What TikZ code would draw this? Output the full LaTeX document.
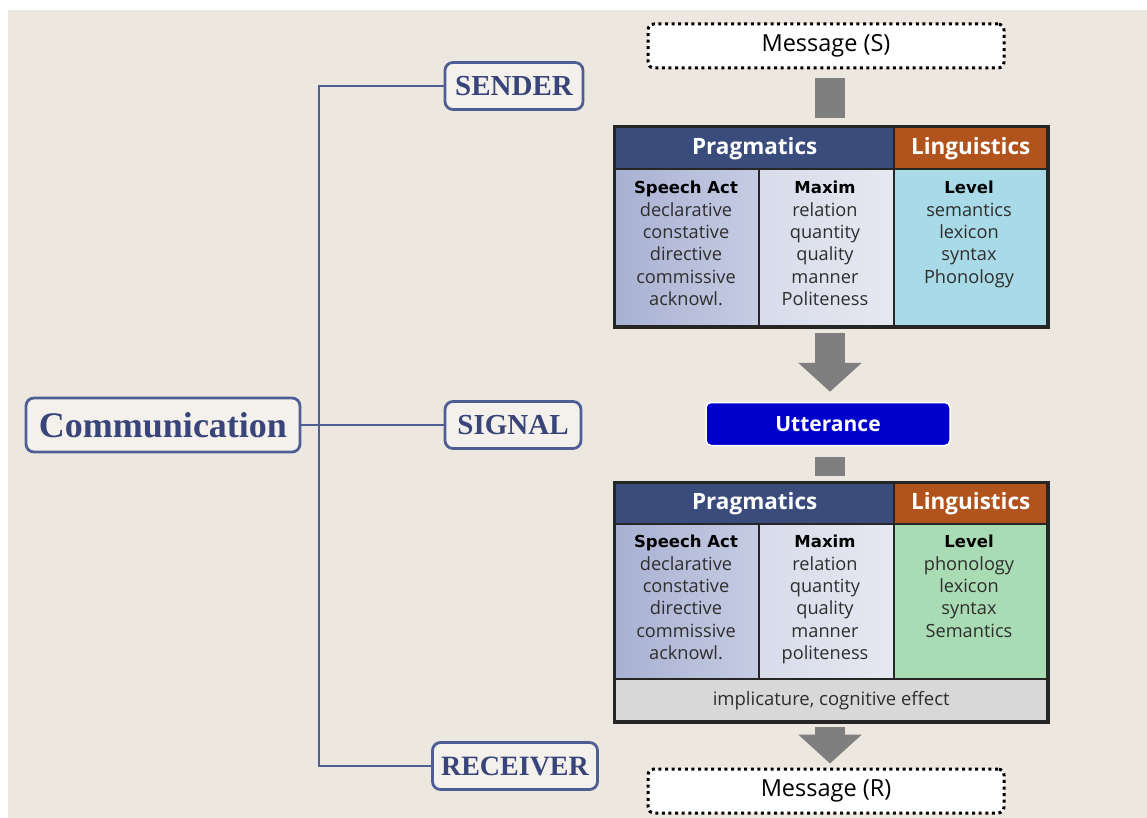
\documentclass[tikz,border=0pt]{standalone}
\usepackage{fontspec}
\setmainfont{Open Sans}
\newfontfamily\treefont{Liberation Serif}
\newfontfamily\headfont{DejaVu Sans}
\usetikzlibrary{arrows.meta,positioning}

\definecolor{paper}{HTML}{ECE8E0}
\definecolor{treeblue}{HTML}{4F5F96}
\definecolor{treetext}{HTML}{39457A}
\definecolor{pragblue}{HTML}{3A4C7C}
\definecolor{lingorange}{HTML}{B0531C}
\definecolor{actL}{HTML}{A8B1D2}
\definecolor{actR}{HTML}{C6CCE3}
\definecolor{maxL}{HTML}{D8DBEA}
\definecolor{maxR}{HTML}{E6E8F1}
\definecolor{levelblue}{HTML}{A8DAE7}
\definecolor{levelgreen}{HTML}{A9DCB4}
\definecolor{implgray}{HTML}{D8D8D8}
\definecolor{rule}{HTML}{262626}
\definecolor{flowgray}{HTML}{7F7F7F}
\definecolor{uttblue}{HTML}{0000CC}
\definecolor{bodytext}{HTML}{2E2E2E}

% bold heading line inside a table column
\newcommand\colhd[1]{{\headfont\bfseries\fontsize{16.5}{22.4}\selectfont\color{black}#1}}

\tikzset{
  treebox/.style={draw=treeblue, line width=2.8pt, rounded corners=8pt,
    fill=paper!60!white, text=treetext, inner sep=0pt,
    font=\treefont\bfseries\fontsize{29}{31}\selectfont},
  treeline/.style={draw=treeblue, line width=2.8pt},
  msgbox/.style={draw=black, fill=white, line width=3pt,
    dash pattern=on 3pt off 3.6pt, rounded corners=6pt,
    minimum width=356pt, minimum height=44pt, inner sep=0pt,
    font=\fontsize{23.5}{25}\selectfont},
  cell/.style={draw=rule, line width=2.4pt, inner sep=0pt, anchor=north west},
  hdrtext/.style={text=white, font=\bfseries\fontsize{22.5}{24}\selectfont},
  coltext/.style={align=center, inner sep=0pt, anchor=north,
    font=\fontsize{18.2}{22.4}\selectfont, text=bodytext},
  bar/.style={draw=flowgray, line width=30pt},
  blockarrow/.style={draw=flowgray, line width=30pt,
    -{Triangle[width=62pt,length=29pt]}, color=flowgray},
}

\begin{document}
\begin{tikzpicture}[x=1pt,y=-1pt]
% page and paper
\fill[white] (0,0) rectangle (1147,818);
\fill[paper] (8,10) rectangle (1147,818);
\useasboundingbox (0,0) rectangle (1147,818);

% ---------- left tree ----------
\node[treebox, minimum width=274pt, minimum height=54pt,
      font=\treefont\bfseries\fontsize{36}{38}\selectfont]
      (comm) at (163,425) {Communication};
\node[treebox, minimum width=138pt, minimum height=47pt] (sender) at (514,86) {SENDER};
\node[treebox, minimum width=136pt, minimum height=47pt] (signal) at (513,425) {SIGNAL};
\node[treebox, minimum width=165pt, minimum height=47pt, font=\treefont\bfseries\fontsize{28}{30}\selectfont] (receiver) at (515,766) {RECEIVER};
\coordinate (trunk) at (319,425);

\draw[treeline] (comm.east) -- (signal.west);
\draw[treeline] (sender.west) -- (sender.west -| trunk)
  -- (receiver.west -| trunk) -- (receiver.west);

% ---------- sender side ----------
\node[msgbox] (msgS) at (826,46) {Message (S)};

% table 1
\node[cell, fill=pragblue, minimum width=279pt, minimum height=42pt] (p1) at (614,126) {};
\node[cell, fill=lingorange, minimum width=153pt, minimum height=42pt] (l1) at (893,126) {};
\node[cell, left color=actL, right color=actR, minimum width=144pt, minimum height=157pt] (a1) at (614,168) {};
\node[cell, left color=maxL, right color=maxR, minimum width=135pt, minimum height=157pt] (m1) at (758,168) {};
\node[cell, fill=levelblue, minimum width=153pt, minimum height=157pt] (v1) at (893,168) {};
\draw[rule, line width=2.6pt] (p1.north west) rectangle (v1.south east);
\coordinate (tab1top) at (830,126);
\coordinate (tab1bot) at (830,325);

\node[hdrtext] at (p1.center) {Pragmatics};
\node[hdrtext] at (l1.center) {Linguistics};
\node[coltext] at (686,181) {\colhd{Speech Act}\\declarative\\constative\\directive\\commissive\\acknowl.};
\node[coltext] at (825,181) {\colhd{Maxim}\\relation\\quantity\\quality\\manner\\Politeness};
\node[coltext] at (969,181) {\colhd{Level}\\semantics\\lexicon\\syntax\\Phonology};

% utterance
\node[draw=white, line width=1.5pt, fill=uttblue, rounded corners=5pt,
      minimum width=244pt, minimum height=43pt, inner sep=0pt,
      text=white, font=\bfseries\fontsize{21}{23}\selectfont]
      (utt) at (828,424) {Utterance};

% ---------- receiver side ----------
\node[cell, fill=pragblue, minimum width=279pt, minimum height=41pt] (p2) at (614,482) {};
\node[cell, fill=lingorange, minimum width=153pt, minimum height=41pt] (l2) at (893,482) {};
\node[cell, left color=actL, right color=actR, minimum width=144pt, minimum height=155pt] (a2) at (614,523) {};
\node[cell, left color=maxL, right color=maxR, minimum width=135pt, minimum height=155pt] (m2) at (758,523) {};
\node[cell, fill=levelgreen, minimum width=153pt, minimum height=155pt] (v2) at (893,523) {};
\node[cell, fill=implgray, minimum width=432pt, minimum height=42pt] (impl) at (614,678) {};
\draw[rule, line width=2.6pt] (p2.north west) rectangle (impl.south east);
\coordinate (tab2top) at (830,482);
\coordinate (tab2bot) at (830,720);

\node[hdrtext] at (p2.center) {Pragmatics};
\node[hdrtext] at (l2.center) {Linguistics};
\node[coltext] at (686,535) {\colhd{Speech Act}\\declarative\\constative\\directive\\commissive\\acknowl.};
\node[coltext] at (825,535) {\colhd{Maxim}\\relation\\quantity\\quality\\manner\\politeness};
\node[coltext] at (969,535) {\colhd{Level}\\phonology\\lexicon\\syntax\\Semantics};
\node[font=\fontsize{18.5}{20}\selectfont, text=bodytext] at (impl.center) {implicature, cognitive effect};

\node[msgbox] (msgR) at (826,791) {Message (R)};

% ---------- flow between boxes ----------
\draw[bar, shorten <=9pt, shorten >=8pt] (msgS.south -| tab1top) -- (tab1top);
\draw[blockarrow, shorten <=8pt, shorten >=10pt] (tab1bot) -- (utt.north -| tab1bot);
\draw[bar, shorten <=11pt, shorten >=6pt] (utt.south -| tab2top) -- (tab2top);
\draw[blockarrow, shorten <=7pt, shorten >=4pt] (tab2bot) -- (msgR.north -| tab2bot);
\end{tikzpicture}
\end{document}
